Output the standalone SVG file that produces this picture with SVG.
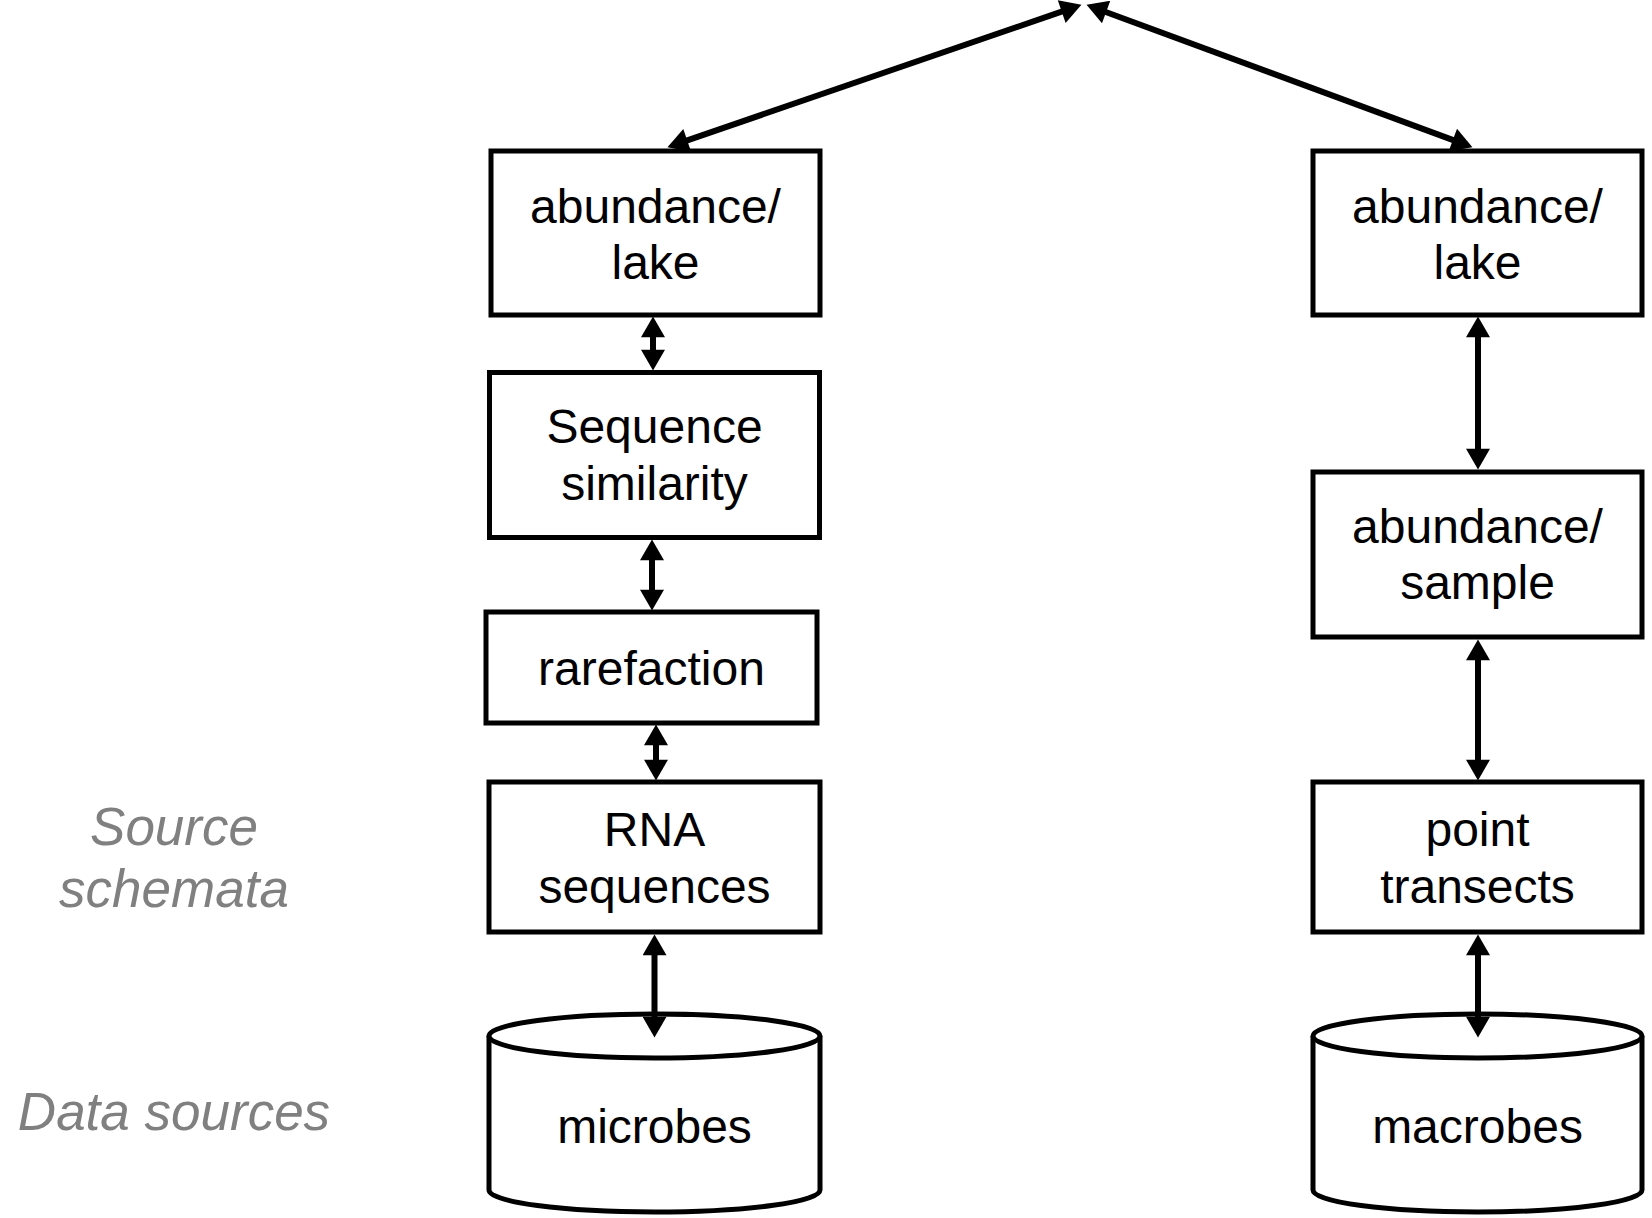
<svg xmlns="http://www.w3.org/2000/svg" width="1652" height="1218" viewBox="0 0 1652 1218">
  <style>
    .box { fill: #ffffff; stroke: #000000; stroke-width: 5; }
    .lbl { font-family: "Liberation Sans", Arial, sans-serif; font-size: 48px; fill: #000000; text-anchor: middle; }
    .side { font-family: "Liberation Sans", Arial, sans-serif; font-size: 53px; font-style: italic; fill: #808080; text-anchor: middle; }
    .link { stroke: #000000; stroke-width: 6; fill: none; marker-start: url(#head); marker-end: url(#head); }
  </style>
  <defs>
    <marker id="head" markerUnits="userSpaceOnUse" markerWidth="24" markerHeight="24" viewBox="0 0 20 23" refX="8" refY="11.5" orient="auto-start-reverse">
      <path d="M0,0 L20,11.5 L0,23 z" fill="#000000"/>
    </marker>
  </defs>

  <rect width="1652" height="1218" fill="#ffffff"/>

  <!-- layer captions -->
  <g id="caption-schemata">
    <text class="side" x="174" y="845">Source</text>
    <text class="side" x="174" y="907">schemata</text>
  </g>
  <g id="caption-sources">
    <text class="side" x="174" y="1130">Data sources</text>
  </g>

  <!-- microbes branch -->
  <g id="node-lake-left">
    <rect class="box" x="491" y="151" width="329" height="164"/>
    <text class="lbl" x="655.5" y="223">abundance/</text>
    <text class="lbl" x="655.5" y="279">lake</text>
  </g>
  <g id="node-similarity">
    <rect class="box" x="489.5" y="372.5" width="330" height="165"/>
    <text class="lbl" x="654.5" y="443">Sequence</text>
    <text class="lbl" x="654.5" y="500">similarity</text>
  </g>
  <g id="node-rarefaction">
    <rect class="box" x="486" y="612" width="331" height="111"/>
    <text class="lbl" x="651.5" y="685">rarefaction</text>
  </g>
  <g id="node-rna">
    <rect class="box" x="489" y="782" width="331" height="150"/>
    <text class="lbl" x="654.5" y="846">RNA</text>
    <text class="lbl" x="654.5" y="903">sequences</text>
  </g>
  <g id="node-microbes">
    <path class="box" d="M489,1036 L489,1190 A165.5,22 0 0 0 820,1190 L820,1036"/>
    <ellipse class="box" cx="654.5" cy="1036" rx="165.5" ry="22"/>
    <text class="lbl" x="654.5" y="1143">microbes</text>
  </g>

  <!-- macrobes branch -->
  <g id="node-lake-right">
    <rect class="box" x="1313" y="151" width="329" height="164"/>
    <text class="lbl" x="1477.5" y="223">abundance/</text>
    <text class="lbl" x="1477.5" y="279">lake</text>
  </g>
  <g id="node-sample">
    <rect class="box" x="1313" y="472" width="329" height="165"/>
    <text class="lbl" x="1477.5" y="543">abundance/</text>
    <text class="lbl" x="1477.5" y="599">sample</text>
  </g>
  <g id="node-transects">
    <rect class="box" x="1313" y="782" width="329" height="150"/>
    <text class="lbl" x="1477.5" y="846">point</text>
    <text class="lbl" x="1477.5" y="903">transects</text>
  </g>
  <g id="node-macrobes">
    <path class="box" d="M1313,1036 L1313,1190 A164.5,22 0 0 0 1642,1190 L1642,1036"/>
    <ellipse class="box" cx="1477.5" cy="1036" rx="164.5" ry="22"/>
    <text class="lbl" x="1477.5" y="1143">macrobes</text>
  </g>

  <!-- two-way connectors -->
  <g id="connectors">
    <line class="link" x1="679.3" y1="143.1" x2="1069.6" y2="8.9"/>
    <line class="link" x1="1098.3" y1="9.2" x2="1460.7" y2="142.9"/>
    <line class="link" x1="653" y1="329" x2="653" y2="358"/>
    <line class="link" x1="652" y1="552" x2="652" y2="598"/>
    <line class="link" x1="656" y1="737" x2="656" y2="768"/>
    <line class="link" x1="654.5" y1="947" x2="654.5" y2="1025"/>
    <line class="link" x1="1478" y1="329" x2="1478" y2="457"/>
    <line class="link" x1="1478" y1="652" x2="1478" y2="768"/>
    <line class="link" x1="1478" y1="947" x2="1478" y2="1025"/>
  </g>
</svg>
